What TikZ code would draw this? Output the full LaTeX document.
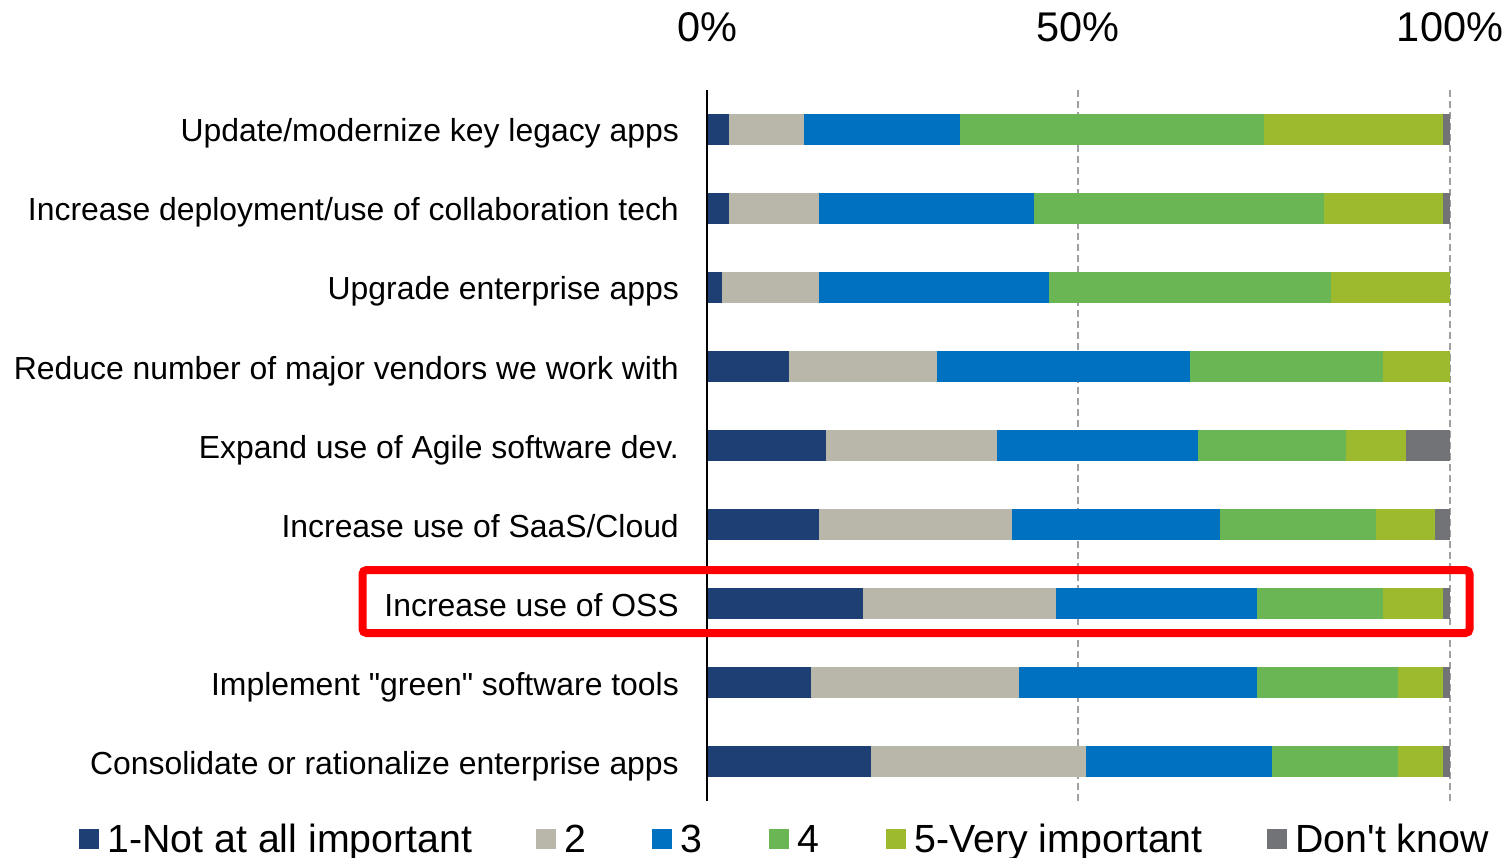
\documentclass[tikz,border=0pt]{standalone}
\usepackage{fontspec}
\setmainfont{Liberation Sans}
\usepackage{tikz}
\usetikzlibrary{positioning}

\definecolor{lvlone}{HTML}{1E3F74}
\definecolor{lvltwo}{HTML}{B9B7AA}
\definecolor{lvlthree}{HTML}{0070C0}
\definecolor{lvlfour}{HTML}{6AB554}
\definecolor{lvlfive}{HTML}{9DBA2F}
\definecolor{dontknow}{HTML}{727376}
\definecolor{gridgray}{HTML}{A0A0A0}

\newcommand{\barzero}{707}
\newcommand{\barunit}{7.433}
\newcommand{\barhalf}{15.7}

\begin{document}
\begin{tikzpicture}[x=1pt,y=-1pt,
	rowlabel/.style={anchor=east,inner sep=0pt,text height=25pt,text depth=0pt,font=\fontsize{31.9}{36}\selectfont},
	ticklabel/.style={anchor=base,inner sep=0pt,font=\fontsize{41.5}{46}\selectfont},
	legendkey/.style={minimum size=20pt,inner sep=0pt},
	legendtext/.style={inner sep=0pt,text height=26pt,text depth=0pt,font=\fontsize{39.3}{44}\selectfont},
	gridline/.style={gridgray,line width=2.2pt,dash pattern=on 7pt off 4pt},
	axisline/.style={black,line width=2.2pt},
	hilite/.style={red,line width=8pt,rounded corners=4pt}
]
	\useasboundingbox (0,0) rectangle (1512,858);

	% scale on top
	\draw
		node [ticklabel] (t0)   at (707,42)  {0\%}
		node [ticklabel] (t50)  at (1078,42) {50\%}
		node [ticklabel] (t100) at (1450,42) {100\%}
	;
	\draw[gridline] (1078,90) -- (1078,801);
	\draw[gridline] (1450,90) -- (1450,801);

	% one stacked bar per item
	\foreach \n/\txt/\a/\b/\c/\d/\e in {
		1/{Update/modernize key legacy apps}/3/13/34/75/99,
		2/{Increase deployment/use of collaboration tech}/3/15/44/83/99,
		3/{Upgrade enterprise apps}/2/15/46/84/100,
		4/{Reduce number of major vendors we work with}/11/31/65/91/100,
		5/{Expand use of Agile software dev.}/16/39/66/86/94,
		6/{Increase use of SaaS/Cloud}/15/41/69/90/98,
		7/{Increase use of OSS}/21/47/74/91/99,
		8/{Implement \textquotedbl green\textquotedbl{} software tools}/14/42/74/93/99,
		9/{Consolidate or rationalize enterprise apps}/22/51/76/93/99%
	}{
		\pgfmathsetmacro{\y}{129.5+79*(\n-1)}
		\node[rowlabel] (r\n) at (679,\y) {\txt};
		\fill[lvlone]   (\barzero,\y-\barhalf) rectangle (\barzero+\barunit*\a,\y+\barhalf);
		\fill[lvltwo]   (\barzero+\barunit*\a,\y-\barhalf) rectangle (\barzero+\barunit*\b,\y+\barhalf);
		\fill[lvlthree] (\barzero+\barunit*\b,\y-\barhalf) rectangle (\barzero+\barunit*\c,\y+\barhalf);
		\fill[lvlfour]  (\barzero+\barunit*\c,\y-\barhalf) rectangle (\barzero+\barunit*\d,\y+\barhalf);
		\fill[lvlfive]  (\barzero+\barunit*\d,\y-\barhalf) rectangle (\barzero+\barunit*\e,\y+\barhalf);
		\fill[dontknow] (\barzero+\barunit*\e,\y-\barhalf) rectangle (\barzero+\barunit*100,\y+\barhalf);
	}
	\draw[axisline] (707,90) -- (707,801);

	% highlight
	\draw[hilite] (362.5,570) rectangle (1469.5,633);

	% legend
	\draw
		node [legendkey,fill=lvlone]    (k1) at (89,839)   {}
		node [legendtext,right=8pt of k1] (l1) {1-Not at all important}
		node [legendkey,fill=lvltwo]    (k2) at (546,839)  {}
		node [legendtext,right=8pt of k2] (l2) {2}
		node [legendkey,fill=lvlthree]  (k3) at (662,839)  {}
		node [legendtext,right=8pt of k3] (l3) {3}
		node [legendkey,fill=lvlfour]   (k4) at (779,839)  {}
		node [legendtext,right=8pt of k4] (l4) {4}
		node [legendkey,fill=lvlfive]   (k5) at (896,839)  {}
		node [legendtext,right=8pt of k5] (l5) {5-Very important}
		node [legendkey,fill=dontknow]  (k6) at (1277,839) {}
		node [legendtext,right=8pt of k6] (l6) {Don\textquotesingle t know}
	;
\end{tikzpicture}
\end{document}
